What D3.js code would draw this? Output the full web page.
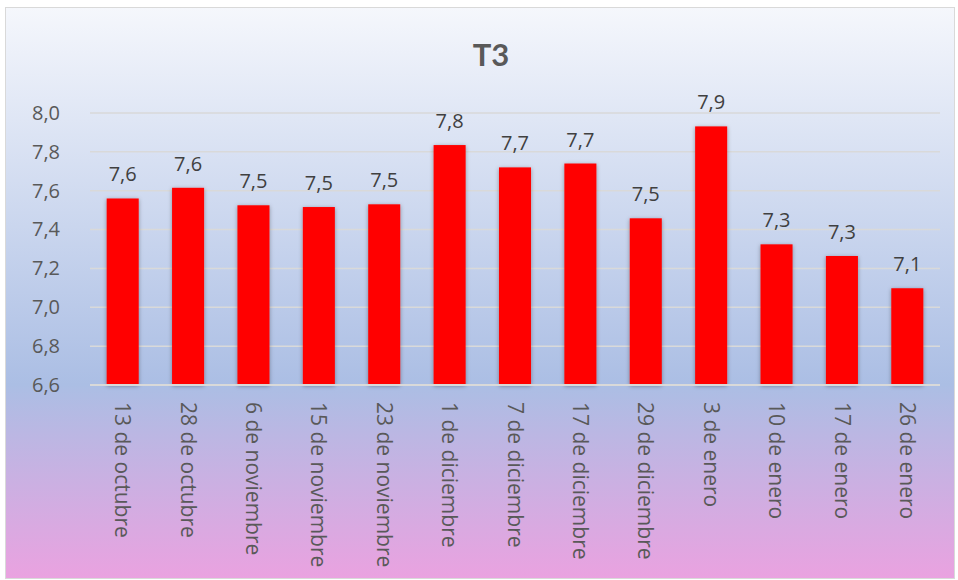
<!DOCTYPE html>
<html>
<head>
<meta charset="utf-8">
<script src="https://cdn.jsdelivr.net/npm/d3@7"></script>
<style>
  body { margin: 0; background: #fff; }
  svg { display: block; }
</style>
</head>
<body>
<svg id="main-svg" width="958" height="580"></svg>
<script>
// chart data
const categories = ["13 de octubre", "28 de octubre", "6 de noviembre", "15 de noviembre",
    "23 de noviembre", "1 de diciembre", "7 de diciembre", "17 de diciembre",
    "29 de diciembre", "3 de enero", "10 de enero", "17 de enero", "26 de enero"];
const values = [7.56, 7.615, 7.525, 7.516, 7.53, 7.835, 7.72, 7.74, 7.458, 7.931, 7.324, 7.264, 7.098];
const yTicks = [6.6, 6.8, 7.0, 7.2, 7.4, 7.6, 7.8, 8.0];
const title = "T3";

const width = 958, height = 580;
const margin = { top: 113, right: 18, bottom: 195, left: 90 };
const fontFam = "'Open Sans', sans-serif";
const textColor = "#595959";

var svg = d3.select("#main-svg");
var defs = svg.append("defs");

// background gradient
var grad = defs.append("linearGradient")
    .attr("id", "bg").attr("x1", 0).attr("y1", 0).attr("x2", 0).attr("y2", 1);
grad.append("stop").attr("offset", "0%").attr("stop-color", "#f5f7fc");
grad.append("stop").attr("offset", "66%").attr("stop-color", "#abbee4");
grad.append("stop").attr("offset", "100%").attr("stop-color", "#eaa2e0");

// soft shadow under the bars
var shadow = defs.append("filter").attr("id", "shadow")
    .attr("x", "-20%").attr("y", "-10%").attr("width", "140%").attr("height", "120%");
shadow.append("feDropShadow")
    .attr("dx", 0).attr("dy", 1).attr("stdDeviation", 2)
    .attr("flood-color", "#000").attr("flood-opacity", 0.35);

svg.append("rect")
    .attr("x", 5.5).attr("y", 7.5)
    .attr("width", width - 9).attr("height", height - 9)
    .attr("fill", "url(#bg)")
    .attr("stroke", "#d9d9d9").attr("stroke-width", 1);

var x = d3.scaleBand()
    .domain(categories)
    .range([margin.left, width - margin.right])
    .paddingInner(0.51)
    .paddingOuter(0.255);

var y = d3.scaleLinear()
    .domain([6.6, 8.0])
    .range([height - margin.bottom, margin.top]);

const fmt = v => d3.format(".1f")(v).replace(".", ",");

// gridlines
svg.append("g")
    .selectAll("line")
    .data(yTicks.slice(1))
    .join("line")
    .attr("x1", margin.left).attr("x2", width - margin.right)
    .attr("y1", d => y(d)).attr("y2", d => y(d))
    .attr("stroke", "#d9d9d9").attr("stroke-width", 1.5);

// y axis labels
var yAxis = svg.append("g")
    .attr("transform", `translate(${margin.left - 27},0)`)
    .call(d3.axisLeft(y).tickValues(yTicks).tickSize(0).tickFormat(fmt));
yAxis.select(".domain").remove();
yAxis.selectAll("text")
    .attr("font-size", "20px")
    .attr("font-family", fontFam)
    .attr("fill", textColor);

// bars
svg.append("g")
    .selectAll("rect")
    .data(values)
    .join("rect")
    .attr("x", (d, i) => x(categories[i]))
    .attr("y", d => y(d))
    .attr("width", x.bandwidth())
    .attr("height", d => y(6.6) - y(d))
    .attr("fill", "#ff0000")
    .attr("filter", "url(#shadow)");

// baseline
svg.append("line")
    .attr("x1", margin.left).attr("x2", width - margin.right)
    .attr("y1", y(6.6)).attr("y2", y(6.6))
    .attr("stroke", "#d9d9d9").attr("stroke-width", 2);

// data labels
svg.append("g")
    .selectAll("text")
    .data(values)
    .join("text")
    .attr("x", (d, i) => x(categories[i]) + x.bandwidth() / 2)
    .attr("y", d => y(d) - 17)
    .attr("text-anchor", "middle")
    .attr("font-size", "20px")
    .attr("font-family", fontFam)
    .attr("fill", "#404040")
    .text(fmt);

// x axis labels, rotated
var xAxis = svg.append("g")
    .attr("transform", `translate(0,${y(6.6)})`)
    .call(d3.axisBottom(x).tickSize(0));
xAxis.select(".domain").remove();
xAxis.selectAll("text")
    .attr("transform", "rotate(90)")
    .attr("x", 17)
    .attr("y", 0)
    .attr("dy", "0.35em")
    .attr("text-anchor", "start")
    .attr("font-size", "21px")
    .attr("font-family", fontFam)
    .attr("fill", textColor);

// title
svg.append("text")
    .attr("x", 491)
    .attr("y", 66)
    .attr("text-anchor", "middle")
    .attr("font-size", "31px")
    .attr("font-weight", "bold")
    .attr("font-family", "Lato, sans-serif")
    .attr("fill", textColor)
    .text(title);
</script>
</body>
</html>
